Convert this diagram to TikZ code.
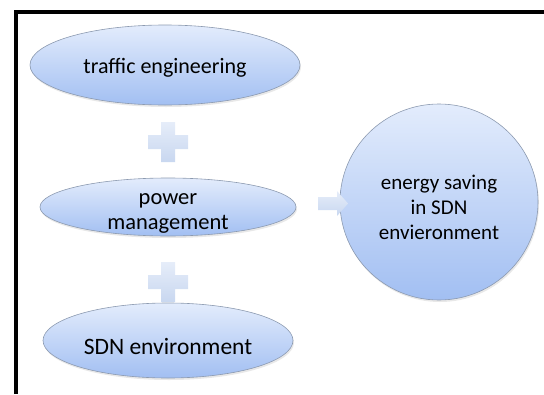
\documentclass[tikz,border=0pt]{standalone}
\usepackage{fontspec}
\setmainfont{Carlito}
\usetikzlibrary{shapes.geometric,shadows}

\definecolor{ovaltop}{HTML}{E3ECFC}
\definecolor{ovalbot}{HTML}{A2BFF2}
\definecolor{ovalrim}{HTML}{8C9AB0}
\definecolor{signtop}{HTML}{E6EDF9}
\definecolor{signbot}{HTML}{C8D7F0}

\tikzset{
  oval/.style={ellipse, draw=ovalrim, line width=0.6pt,
    top color=ovaltop, bottom color=ovalbot, inner sep=0pt,
    drop shadow={opacity=0.18, shadow xshift=1pt, shadow yshift=-2pt}},
  ovaltext/.style={align=center, inner sep=0pt, label distance=0pt},
  sign/.style={top color=signtop, bottom color=signbot}
}

\begin{document}
\begin{tikzpicture}[x=1pt,y=-1pt]
    \useasboundingbox (0,0) rectangle (544,394);
    % frame, only left and top edges are visible
    \draw[line width=4pt] (15.5,394) -- (15.5,12) -- (544,12);
    % the three parts, text sits a bit low as in the original
    \node[oval,minimum width=270pt,minimum height=80pt,
      label={[ovaltext,yshift=-3pt,font=\fontsize{22}{25}\selectfont]center:traffic engineering}]
      (traffic) at (165,65) {};
    \node[oval,minimum width=256pt,minimum height=58pt,
      label={[ovaltext,yshift=-6pt,font=\fontsize{22.5}{25}\selectfont]center:{power\\management}}]
      (power) at (168,207) {};
    \node[oval,minimum width=250pt,minimum height=75pt,
      label={[ovaltext,yshift=-6pt,font=\fontsize{23.5}{25}\selectfont]center:SDN environment}]
      (sdn) at (168,340.5) {};
    % result
    \node[oval,minimum width=198pt,minimum height=196pt,
      label={[ovaltext,yshift=-5pt,font=\fontsize{21}{25}\selectfont]center:{energy saving\\in SDN\\envieronment}}]
      (saving) at (439,202) {};
    % plus signs between the ovals
    \foreach \y in {142,282}
      \shade[sign] (161,\y-20) -- (175,\y-20) -- (175,\y-7) -- (188,\y-7) -- (188,\y+7)
        -- (175,\y+7) -- (175,\y+20) -- (161,\y+20) -- (161,\y+7) -- (148,\y+7)
        -- (148,\y-7) -- (161,\y-7) -- cycle;
    % block arrow towards the result
    \shade[sign] (318,197) -- (337,197) -- (337,191) -- (348,203.5) -- (337,216)
      -- (337,210) -- (318,210) -- cycle;
\end{tikzpicture}
\end{document}
